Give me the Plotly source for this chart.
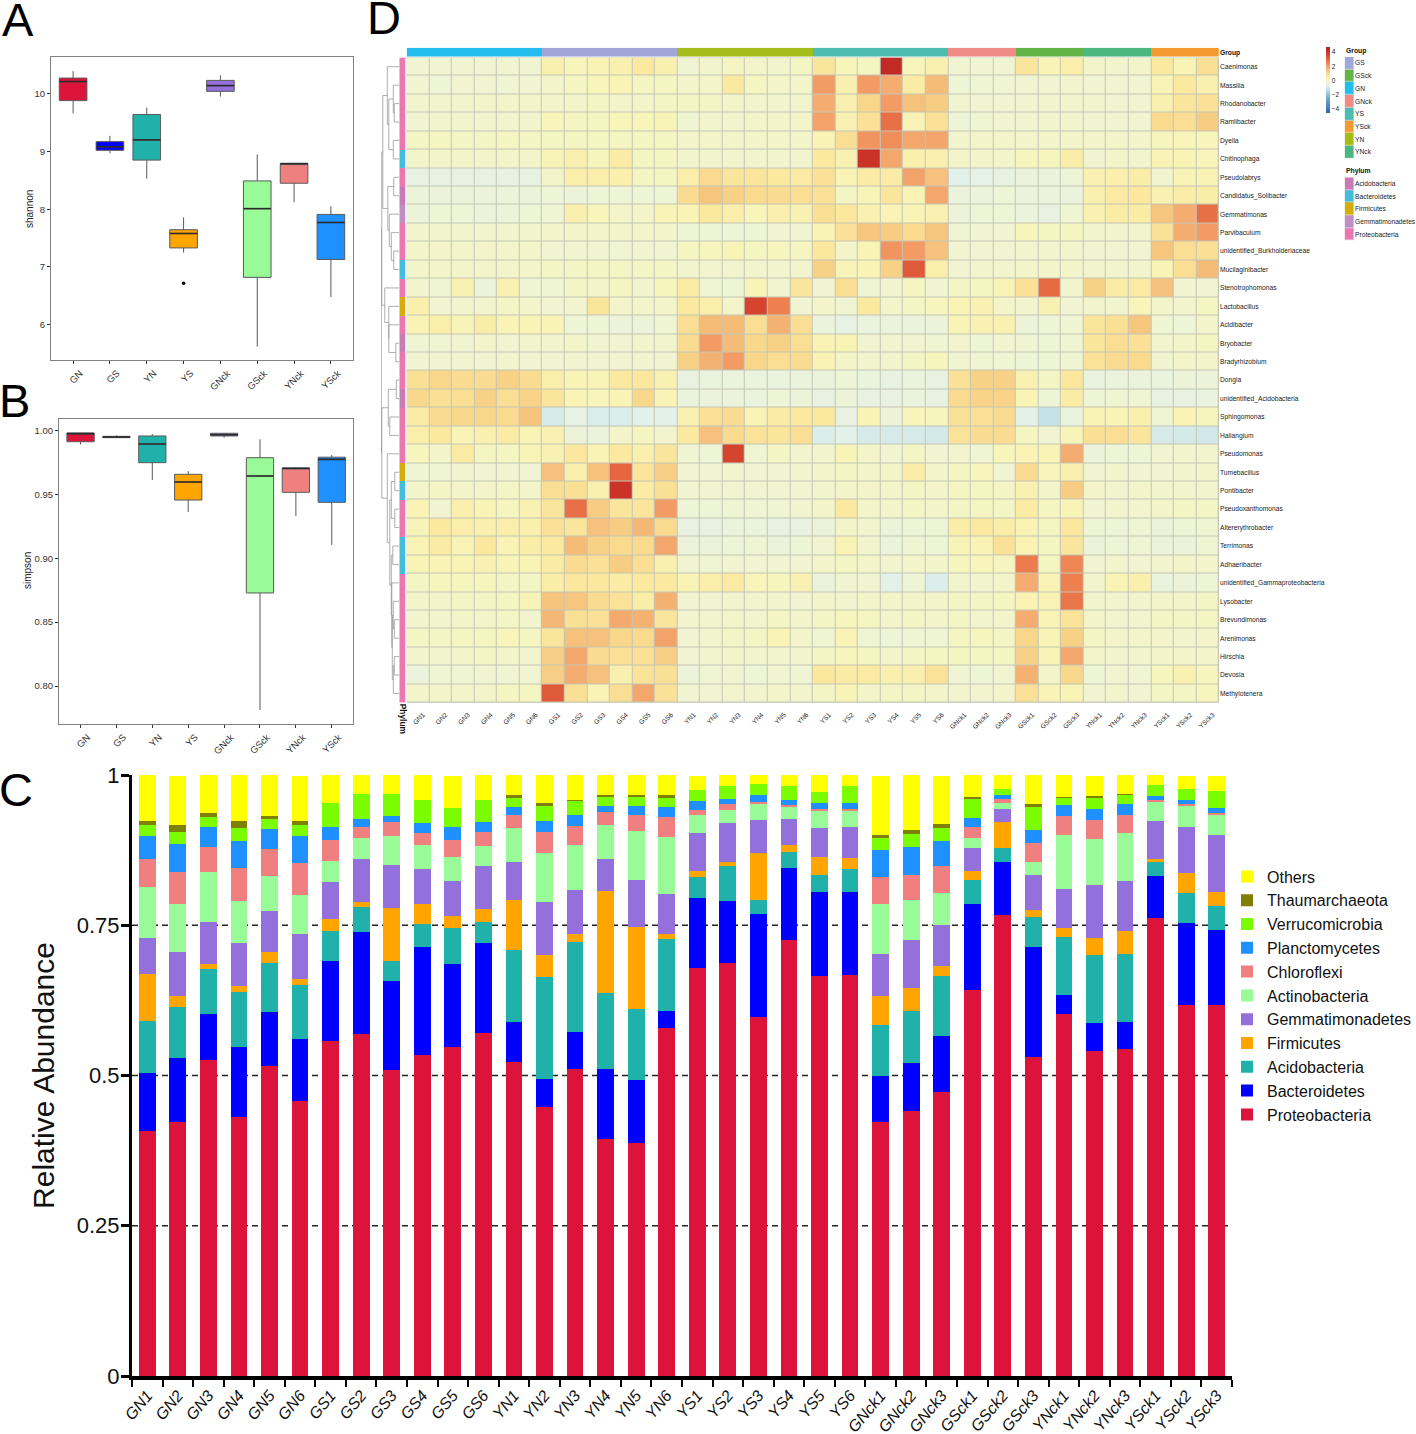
import plotly.graph_objects as go

W, H = 1416, 1434
FONT = "Liberation Sans"

# ---------- panels A and B ----------
BOX_GROUPS = ["GN", "GS", "YN", "YS", "GNck", "GSck", "YNck", "YSck"]
BOX_COLORS = ["#DC143C", "#0000FF", "#20B2AA", "#FFA500", "#9370DB", "#98FB98", "#F08080", "#1E90FF"]

SH_Q1 = [9.88, 9.02, 8.85, 7.33, 10.04, 6.82, 8.45, 7.13]
SH_MED = [10.21, 9.08, 9.20, 7.58, 10.14, 8.01, 8.79, 7.77]
SH_Q3 = [10.27, 9.17, 9.64, 7.645, 10.23, 8.49, 8.79, 7.91]
SH_LOW = [9.66, 8.97, 8.53, 7.25, 9.95, 5.62, 8.12, 6.48]
SH_UP = [10.39, 9.27, 9.76, 7.86, 10.32, 8.95, 8.79, 8.05]
SH_OUT_GROUP = ["YS"]
SH_OUT = [6.72]

SI_Q1 = [0.9911, 0.9943, 0.9747, 0.9455, 0.9956, 0.8728, 0.9515, 0.9437]
SI_MED = [0.9974, 0.9948, 0.9893, 0.9596, 0.9966, 0.9643, 0.9703, 0.9773]
SI_Q3 = [0.9979, 0.9953, 0.9956, 0.9656, 0.9977, 0.9786, 0.9705, 0.9790]
SI_LOW = [0.989, 0.994, 0.9611, 0.9361, 0.9943, 0.7812, 0.933, 0.9103]
SI_UP = [0.998, 0.9961, 0.9971, 0.9682, 0.9977, 0.993, 0.971, 0.9807]

# ---------- panel C ----------
SAMPLES = (["GN%d" % i for i in range(1, 7)] + ["GS%d" % i for i in range(1, 7)]
           + ["YN%d" % i for i in range(1, 7)] + ["YS%d" % i for i in range(1, 7)]
           + ["GNck%d" % i for i in range(1, 4)] + ["GSck%d" % i for i in range(1, 4)]
           + ["YNck%d" % i for i in range(1, 4)] + ["YSck%d" % i for i in range(1, 4)])

PROTEOBACTERIA = [40.7,42.3,52.5,43.1,51.5,45.8, 55.7,56.9,50.9,53.4,54.7,57.1, 52.3,44.7,51.0,39.4,38.7,57.9, 67.9,68.7,59.7,72.5,66.6,66.7, 42.2,44.1,47.2, 64.3,76.7,53.0, 60.3,54.0,54.4, 76.2,61.8,61.7]
BACTEROIDETES = [9.7,10.6,7.7,11.6,9.0,10.3, 13.4,16.9,14.8,17.9,13.9,14.9, 6.6,4.7,6.2,11.6,10.5,2.8, 11.6,10.3,17.1,12.1,14.0,13.8, 7.8,8.0,9.4, 14.3,8.8,18.4, 3.1,4.7,4.5, 7.0,13.6,12.5]
ACIDOBACTERIA = [8.7,8.5,7.5,9.2,8.3,9.0, 4.9,4.2,3.4,3.9,5.9,3.6, 12.0,17.0,15.0,12.8,11.8,12.0, 3.5,5.9,2.4,2.6,2.8,3.9, 8.4,8.7,10.0, 3.9,2.4,5.0, 9.6,11.3,11.4, 2.3,5.0,4.0]
FIRMICUTES = [7.8,1.8,.8,1.0,1.7,.9, 2.1,.9,8.8,3.3,2.0,2.1, 8.3,3.6,1.3,16.9,13.7,.8, 1.0,.6,7.9,1.1,2.9,1.8, 4.9,3.8,1.7, 1.5,4.3,1.2, 1.6,2.9,3.8, .6,3.3,2.3]
GEMMATIMONADETES = [5.9,7.3,7.1,7.1,6.8,7.6, 6.1,7.1,7.2,5.9,5.8,7.2, 6.3,8.8,7.3,5.3,7.8,6.7, 6.3,6.5,5.4,4.4,4.9,5.2, 6.9,8.0,6.8, 3.8,2.2,5.8, 6.4,8.8,8.2, 6.3,7.7,9.6]
ACTINOBACTERIA = [8.5,8.0,8.2,7.1,5.9,6.4, 3.5,3.6,4.7,3.9,4.0,3.3, 5.7,8.2,7.5,5.6,8.1,9.5, 3.0,2.2,2.6,2.1,2.9,2.7, 8.4,6.6,5.3, 1.8,.9,2.2, 9.0,7.7,8.1, 3.2,3.5,3.3]
CHLOROFLEXI = [4.7,5.3,4.3,5.5,4.5,5.4, 3.5,1.8,2.3,2.1,2.9,2.3, 2.2,3.5,3.2,2.2,2.8,3.3, .8,1.0,.4,.2,.2,.2, 4.5,4.1,4.4, 1.7,.7,3.1, 3.2,3.1,3.0, .2,.3,.3]
PLANCTOMYCETES = [3.8,4.8,3.2,4.5,3.3,4.5, 2.1,1.2,1.1,1.6,2.1,1.6, 1.2,1.9,1.8,1.1,1.4,1.7, 1.6,.8,1.2,.9,1.1,1.1, 4.5,4.8,4.3, 1.6,.7,2.1, 1.8,1.9,1.7, .7,.7,.8]
VERRUCOMICROBIA = [1.8,1.9,1.7,2.1,1.6,1.8, 4.0,4.3,3.7,3.9,3.2,3.7, 1.7,2.5,2.4,1.6,1.6,1.6, 1.8,2.2,1.8,2.3,1.8,2.8, 1.9,2.1,2.1, 3.2,1.0,3.9, 1.2,1.9,1.6, 1.8,1.8,2.8]
THAUMARCHAEOTA = [.8,1.2,.7,1.1,.5,.7, 0,0,0,0,0,0, .3,.4,.2,.2,.3,.3, 0,0,0,0,0,0, .5,.6,.7, .2,0,.4, .2,.2,.2, 0,0,0]
OTHERS = [7.6,8.2,6.3,7.7,7.0,7.4, 4.7,3.2,3.2,4.1,5.3,4.4, 3.4,4.8,4.1,3.3,3.3,3.5, 2.4,1.8,1.5,1.8,2.8,1.8, 9.9,9.2,8.0, 3.7,2.3,4.9, 3.7,3.4,3.3, 1.7,2.2,2.6]

STACK = [("Proteobacteria", PROTEOBACTERIA, "#DC143C"), ("Bacteroidetes", BACTEROIDETES, "#0000FF"),
         ("Acidobacteria", ACIDOBACTERIA, "#20B2AA"), ("Firmicutes", FIRMICUTES, "#FFA500"),
         ("Gemmatimonadetes", GEMMATIMONADETES, "#9370DB"), ("Actinobacteria", ACTINOBACTERIA, "#98FB98"),
         ("Chloroflexi", CHLOROFLEXI, "#F08080"), ("Planctomycetes", PLANCTOMYCETES, "#1E90FF"),
         ("Verrucomicrobia", VERRUCOMICROBIA, "#7CFC00"), ("Thaumarchaeota", THAUMARCHAEOTA, "#808000"),
         ("Others", OTHERS, "#FFFF00")]
C_TICKS = [0, 0.25, 0.5, 0.75, 1]
C_TICK_TEXT = ["0", "0.25", "0.5", "0.75", "1"]
C_DASHED = [0.25, 0.5, 0.75]

# ---------- panel D ----------
GENERA = ["Caenimonas", "Massilia", "Rhodanobacter", "Ramlibacter", "Dyella", "Chitinophaga", "Pseudolabrys",
          "Candidatus_Solibacter", "Gemmatimonas", "Parvibaculum", "unidentified_Burkholderiaceae", "Mucilaginibacter",
          "Stenotrophomonas", "Lactobacillus", "Acidibacter", "Bryobacter", "Bradyrhizobium", "Dongia",
          "unidentified_Acidobacteria", "Sphingomonas", "Haliangium", "Pseudomonas", "Tumebacillus", "Pontibacter",
          "Pseudoxanthomonas", "Altererythrobacter", "Terrimonas", "Adhaeribacter", "unidentified_Gammaproteobacteria",
          "Lysobacter", "Brevundimonas", "Arenimonas", "Hirschia", "Devosia", "Methylotenera"]
Z_VALUES = [
 [-.3,-.3,-.3,-.3,-.3,-.3, .2,0,.1,.2,.5,.2, -.35,-.25,-.1,-.2,-.25,-.15, .6,0,-.1,4.3,0,.2, -.3,-.3,-.3, .6,.1,.3, -.2,-.25,-.2, .5,.1,.8],
 [-.3,-.4,-.3,-.3,-.35,-.3, -.2,-.1,0,.1,-.1,-.1, -.2,-.2,.5,-.1,-.2,-.2, 2.1,.2,2.1,1.8,.4,1.5, -.4,-.35,-.35, -.3,-.3,-.25, -.3,-.3,-.3, .1,.5,.2],
 [-.25,-.25,-.25,-.2,-.2,-.2, -.2,-.2,-.15,-.2,-.2,-.15, -.15,-.15,-.2,-.25,-.25,-.25, 1.8,.2,1.0,2.1,1.4,1.2, -.3,-.3,-.3, -.3,-.25,-.25, -.25,-.3,-.3, .2,.6,.7],
 [-.3,-.25,-.25,-.25,-.25,-.25, 0,-.1,-.1,0,0,.05, -.35,-.25,-.25,-.2,-.2,-.2, 2.0,.15,.7,2.8,.1,.7, -.4,-.35,-.3, -.3,-.25,-.25, -.3,-.3,-.3, .9,.8,1.2],
 [-.15,-.1,-.15,-.15,-.1,-.15, -.1,-.1,-.1,-.1,-.1,-.1, -.2,-.2,-.2,-.2,-.2,-.2, .1,.8,2.2,2.3,1.9,1.95, -.25,-.2,-.2, -.2,-.2,-.2, -.2,-.2,-.2, -.05,0,0],
 [-.2,-.2,-.2,-.2,-.2,-.2, .05,.2,-.05,.4,-.1,-.1, -.25,-.25,-.25,-.25,-.25,-.25, .5,.15,4.0,1.9,.25,.25, -.2,-.2,-.2, -.05,-.05,.35, -.3,-.2,-.25, .1,.1,0],
 [-.65,-.65,-.65,-.65,-.65,-.65, -.2,.3,.3,.25,-.1,-.1, .3,.9,.6,.6,.5,.45, .7,.1,.4,.4,2.0,1.4, -.8,-.7,-.65, -.5,-.5,-.4, .15,.25,.35, -.3,.1,.1],
 [-.45,-.45,-.45,-.45,-.45,-.45, -.4,-.45,-.4,-.4,-.4,-.4, .85,1.3,1.1,.9,.85,.8, .7,-.15,.05,.6,.1,1.9, -.5,-.5,-.4, -.5,-.5,-.5, .2,.45,.55, .15,.35,.35],
 [-.45,-.4,-.4,-.45,-.45,-.4, -.35,.2,0,-.2,-.2,.1, .1,.5,.3,0,.25,.15, .75,.55,.15,.1,.1,.15, -.45,-.4,-.4, -.5,-.6,-.35, .15,.4,.4, 1.3,1.8,2.8],
 [-.25,-.25,-.25,-.25,-.25,-.25, -.2,-.2,-.2,-.2,-.2,-.2, -.4,-.4,-.4,-.4,-.3,-.3, .1,.7,1.3,1.2,.9,1.3, -.35,-.3,-.3, 0,-.1,-.1, -.25,-.25,-.25, .7,1.8,2.1],
 [-.2,-.2,-.2,-.2,-.2,-.2, -.3,-.3,-.3,-.35,-.3,-.3, -.1,-.05,.05,-.1,-.05,-.1, .55,-.2,.1,2.2,2.1,1.4, -.3,-.3,-.3, -.25,-.25,-.25, -.3,-.3,-.3, 1.3,.8,.75],
 [-.2,-.2,-.2,-.2,-.2,-.2, -.15,-.15,-.15,-.15,-.15,-.15, -.25,-.25,-.25,-.25,-.25,-.25, 1.1,.05,.1,1.1,3.2,.3, -.3,-.25,-.25, -.2,-.2,-.2, -.25,-.25,-.25, .1,.8,1.5],
 [-.25,-.35,.15,-.45,.15,-.35, -.35,-.15,-.2,-.1,-.25,-.05, .4,-.35,-.4,.05,-.3,.6, -.3,.8,-.35,-.3,-.1,-.3, -.15,-.1,.05, .7,2.9,-.25, 1.1,.4,.45, 1.4,-.3,-.3],
 [.25,-.3,-.25,-.25,-.15,-.2, -.3,-.25,.6,-.2,-.2,-.2, .5,.3,-.2,3.6,2.5,-.3, -.2,-.3,.5,-.2,-.15,-.05, .1,.15,-.2, -.25,.15,-.3, -.25,-.25,0, -.2,-.25,-.1],
 [.1,.3,.05,.35,.1,.1, .1,-.4,-.4,-.45,-.45,-.35, .8,1.5,1.5,.8,1.7,.8, -.5,-.65,-.55,-.5,-.5,-.45, .1,.15,.15, -.45,-.4,-.35, .6,.75,1.3, -.35,-.4,-.2],
 [-.35,-.35,-.3,-.2,-.3,-.25, -.25,-.2,-.3,-.3,-.25,-.25, .85,2.1,1.5,.95,1.1,.8, .1,.1,-.3,-.3,-.3,-.35, -.25,-.4,-.3, -.35,-.4,-.35, .6,.8,.7, -.25,-.2,-.1],
 [-.3,-.3,-.3,-.3,-.25,-.3, -.3,-.3,-.3,-.3,-.3,-.3, 1.1,1.7,2.1,1.0,.8,.85, .1,-.2,-.25,-.25,-.15,-.05, -.3,-.35,-.35, -.4,-.4,-.35, .65,.85,.9, -.3,-.2,-.2],
 [.75,1.0,.85,.85,1.1,.85, .3,.1,.05,.5,.55,.15, -.6,-.55,-.55,-.55,-.55,-.5, -.5,-.4,-.55,-.65,-.55,-.6, .7,1.1,1.1, .15,-.15,.55, -.55,-.5,-.5, -.55,-.45,-.45],
 [.95,.75,.8,1.1,.8,1.05, .6,.1,0,.1,.95,.1, -.55,-.5,-.5,-.55,-.4,-.45, -.6,-.45,-.6,-.6,-.55,-.6, .9,1.05,1.05, .1,-.4,.4, -.4,-.35,-.35, -.6,-.6,-.55],
 [.4,.85,.95,1.0,.9,1.35, -1.0,-.7,-.95,-.95,-.8,-.8, .15,.7,.85,.1,.4,.5, .5,-.6,.1,-.45,0,-.05, .7,.7,.85, -.75,-1.3,-.55, .1,.1,.2, -.35,.1,-.05],
 [.3,.5,.1,.2,.4,.1, .15,-.45,-.5,-.2,-.1,-.25, .5,1.4,.9,.65,.6,.8, -.9,-.8,-1.0,-1.0,-1.0,-1.05, .65,.85,.85, -.1,-.3,.05, .75,.8,.6, -1.0,-1.05,-1.1],
 [-.05,-.2,.45,-.1,-.1,.05, .15,.55,.1,.5,.2,.6, -.35,-.4,3.6,-.35,-.15,-.25, -.25,.05,-.2,-.3,-.15,-.3, -.25,-.35,0, .1,.1,1.8, -.45,-.4,-.4, -.3,-.25,-.25],
 [-.35,-.35,-.3,-.3,-.3,-.35, 1.4,.25,1.4,3.0,.6,1.15, -.3,-.3,-.25,-.3,-.3,-.25, -.2,-.15,-.2,-.15,.35,-.2, -.1,0,-.35, .85,0,.2, -.3,-.25,-.3, -.3,-.25,-.2],
 [-.2,-.15,-.2,-.2,-.15,-.2, .8,.75,.2,4.0,.4,.75, -.3,-.3,-.3,-.3,-.3,-.3, -.25,-.2,-.2,-.2,-.15,-.2, -.1,-.1,-.15, .15,-.2,1.2, -.2,-.25,-.2, -.25,-.25,-.25],
 [.1,-.3,.25,.1,-.05,.15, .6,2.8,1.2,.6,.6,2.1, -.4,-.4,-.35,-.35,-.35,-.3, -.2,.5,-.2,-.2,-.15,-.2, -.15,-.1,-.15, .4,-.1,.05, -.3,-.25,-.25, -.2,-.15,-.15],
 [.05,.5,.3,.25,.3,.25, .7,.6,1.4,1.2,1.6,.9, -.6,-.6,-.55,-.55,-.6,-.6, -.45,-.2,-.25,-.45,-.4,-.4, .35,.5,.35, .1,-.1,.55, -.4,-.4,-.35, -.45,-.4,-.35],
 [.1,.4,.1,.55,.1,.35, .5,1.5,1.1,.9,.9,1.9, -.45,-.45,-.4,-.35,-.45,-.4, -.3,.1,-.25,-.5,-.35,-.4, .05,.1,.7, .1,-.1,.6, -.45,-.4,-.35, -.45,-.45,-.35],
 [.1,.1,.1,.15,.05,.1, .4,.85,.7,1.2,.8,.2, -.3,-.35,-.3,-.3,-.3,-.3, -.2,-.15,-.2,-.25,-.2,-.2, -.05,0,-.1, 2.6,-.1,2.4, -.3,-.25,-.3, -.25,-.2,-.2],
 [-.15,-.05,-.05,-.05,-.15,-.15, .35,.55,.55,.4,.5,.5, .1,.3,.45,0,-.05,.15, -.5,-.3,-.3,-.75,-.4,-.9, -.25,-.25,-.2, 1.8,.1,2.5, -.25,.1,.2, -.55,-.45,-.4],
 [-.2,-.2,-.15,-.15,-.1,.05, 1.35,1.3,.85,.65,.35,1.7, -.3,-.3,-.25,-.25,-.25,-.3, -.2,-.25,-.2,-.2,-.2,-.2, -.15,-.15,-.1, .1,.1,2.7, -.25,-.25,-.25, -.2,-.2,-.15],
 [-.25,-.25,-.2,-.2,-.15,-.25, 1.6,.75,.7,1.85,1.7,.6, -.25,-.25,-.2,-.25,-.15,-.2, -.15,-.05,-.1,-.2,-.15,-.2, -.15,-.25,-.2, 1.8,.1,.65, -.2,-.25,-.25, -.15,-.15,-.1],
 [-.15,-.15,-.1,-.1,0,-.1, .6,1.4,1.4,1.0,.9,2.0, -.3,-.25,-.15,-.15,.1,-.2, -.35,.1,-.35,-.4,-.35,-.35, -.1,-.05,-.15, 1.0,.1,1.1, -.15,-.2,-.2, -.2,-.25,-.2],
 [-.25,-.25,-.2,-.15,-.2,-.25, 1.15,1.9,.9,.7,.7,1.15, -.3,-.25,-.2,-.25,-.25,-.25, -.15,-.05,-.1,-.2,-.15,-.1, -.1,-.1,-.1, 1.1,.1,1.9, -.2,-.25,-.25, -.2,-.2,-.2],
 [-.5,-.35,-.35,-.3,-.35,-.3, 1.15,1.8,1.4,.2,.65,.75, -.45,-.35,-.3,-.4,-.3,-.35, .55,.4,.45,.2,.2,.65, -.35,-.4,-.3, 1.7,-.2,.95, -.4,-.3,-.35, -.05,.15,-.05],
 [-.2,-.2,-.2,-.2,-.1,-.1, 3.2,.75,.1,.8,1.9,.7, -.3,-.3,-.25,-.25,-.2,-.25, -.15,.05,-.2,-.15,-.15,-.2, -.25,-.25,-.2, .7,.1,.1, -.3,-.25,-.3, -.15,-.15,-.05],
]
Z_STOPS = [-4.7, -2.5, -1.5, -.8, -.5, -.3, 0, .5, 1, 1.5, 2, 2.5, 3, 3.5, 4, 4.7]
Z_COLORS = ["#2F62AE", "#74ADD1", "#B9DCE8", "#E2F1EA", "#ECF3DC", "#F0F4D0", "#F8F5BA", "#FBE9A0", "#F8D68A",
            "#F5BC78", "#F3A26A", "#EE8050", "#E4653F", "#D6492F", "#CB3228", "#B5201F"]
COLORBAR_TICKS = [-4, -2, 0, 2, 4]

GROUP_ORDER = ["GN", "GS", "YN", "YS", "GNck", "GSck", "YNck", "YSck"]
GROUP_SIZE = [6, 6, 6, 6, 3, 3, 3, 3]
GROUP_COLORS = {"GS": "#A0A6D8", "GSck": "#62B446", "GN": "#23BDEF", "GNck": "#F08A84", "YS": "#4DBBB0",
                "YSck": "#F59A2F", "YN": "#A4BC1A", "YNck": "#4CB680"}
GROUP_LEGEND = ["GS", "GSck", "GN", "GNck", "YS", "YSck", "YN", "YNck"]

PHYLA_LEGEND = ["Acidobacteria", "Bacteroidetes", "Firmicutes", "Gemmatimonadetes", "Proteobacteria"]
PHYLA_COLORS = ["#C77CB5", "#45BCD8", "#D4AC0D", "#BF8FC4", "#E878AE"]
P, B, F, A, M = "Proteobacteria", "Bacteroidetes", "Firmicutes", "Acidobacteria", "Gemmatimonadetes"
GENUS_PHYLUM = [P, P, P, P, P, B, P, A, M, P, P, B, P, F, P, A, P, P, A, P, P, P, F, B, P, P, B, B, P, P, P, P, P, P, P]

# row dendrogram: (merge height, left branch, right branch); integers are rows
DENDRO = (18,
          (17.5,
           (16.5,
            (12, 0, (10.5, (6, 1, (5, 2, 3)), (6, 4, 5))),
            (11.5, (5.5, 6, 7), (10, 8, (8, 9, (5.5, 10, 11))))),
           (14.5, 12, (10.5, 13, (10.5, 14, (3.5, 15, 16))))),
          (17.5,
           (11, (3, 17, 18), (9.5, 19, 20)),
           (12, 21,
            (9.5,
             (8, (4.5, 22, 23), (4.5, 24, 25)),
             (8, (6.5, 26, 27),
              (7.5, 28, (7, (6, 29, (5, 30, 31)), (6, (5, 32, 33), 34))))))))


def dom_x(a, b):
    return [a / W, b / W]


def dom_y(top, bottom):
    return [1 - bottom / H, 1 - top / H]


def steps(colors):
    n = len(colors)
    out = []
    for i, c in enumerate(colors):
        out += [[i / n, c], [(i + 1) / n, c]]
    return out


fig = go.Figure()


def add_boxes(q1, med, q3, low, up, ax_x, ax_y, width, size):
    for i, g in enumerate(BOX_GROUPS):
        fig.add_trace(go.Box(x=[g], q1=[q1[i]], median=[med[i]], q3=[q3[i]], lowerfence=[low[i]], upperfence=[up[i]],
                             name=g, width=width, whiskerwidth=0, fillcolor=BOX_COLORS[i], boxpoints=False,
                             line=dict(color="#5a5a5a", width=1), showlegend=False, hoverinfo="skip",
                             xaxis=ax_x, yaxis=ax_y))
    fig.add_trace(go.Scatter(x=BOX_GROUPS, y=med, mode="markers", showlegend=False, hoverinfo="skip",
                             marker=dict(symbol="line-ew", size=size, line=dict(color="#2b2b2b", width=1.6)),
                             xaxis=ax_x, yaxis=ax_y))


add_boxes(SH_Q1, SH_MED, SH_Q3, SH_LOW, SH_UP, "x", "y", 0.75, 19.6)
fig.add_trace(go.Scatter(x=SH_OUT_GROUP, y=SH_OUT, mode="markers", showlegend=False, hoverinfo="skip",
                         marker=dict(color="black", size=3.5), xaxis="x", yaxis="y"))
add_boxes(SI_Q1, SI_MED, SI_Q3, SI_LOW, SI_UP, "x2", "y2", 0.76, 19.5)

# stacked bars
bar_x = list(range(len(SAMPLES)))
for name, vals, col in STACK:
    fig.add_trace(go.Bar(x=bar_x, y=[v / 100 for v in vals], name=name, width=0.55, marker=dict(color=col, line=dict(width=0)),
                         hoverinfo="skip", xaxis="x3", yaxis="y3"))

# heatmap
span = Z_STOPS[-1] - Z_STOPS[0]
colorscale = [[(z - Z_STOPS[0]) / span, c] for z, c in zip(Z_STOPS, Z_COLORS)]
fig.add_trace(go.Heatmap(z=Z_VALUES, x=SAMPLES, y=GENERA, colorscale=colorscale, zmin=Z_STOPS[0], zmax=Z_STOPS[-1],
                         xgap=1, ygap=1, hoverinfo="skip", xaxis="x4", yaxis="y4",
                         colorbar=dict(x=1326 / W, xanchor="left", y=1 - 113.3 / H, yanchor="bottom", len=66,
                                       lenmode="pixels", thickness=3.5, thicknessmode="pixels", xpad=0, ypad=0,
                                       outlinewidth=0, ticks="", tickvals=COLORBAR_TICKS,
                                       tickfont=dict(size=6.5, color="#222"))))

# annotation strips
group_seq = []
for g, n in zip(GROUP_ORDER, GROUP_SIZE):
    group_seq += [g] * n
group_cols = [GROUP_COLORS[g] for g in GROUP_LEGEND]
fig.add_trace(go.Heatmap(z=[[GROUP_LEGEND.index(g) for g in group_seq]], x=SAMPLES, y=["Group"], showscale=False,
                         colorscale=steps(group_cols), zmin=0, zmax=len(group_cols), hoverinfo="skip",
                         xaxis="x5", yaxis="y5"))
fig.add_trace(go.Heatmap(z=[[PHYLA_LEGEND.index(p)] for p in GENUS_PHYLUM], x=["Phylum"], y=GENERA, showscale=False,
                         colorscale=steps(PHYLA_COLORS), zmin=0, zmax=len(PHYLA_COLORS), hoverinfo="skip",
                         xaxis="x6", yaxis="y6"))

# dendrogram
dx, dy = [], []


def walk(node):
    if isinstance(node, int):
        return node, 0
    h, a, b = node
    ya, ha = walk(a)
    yb, hb = walk(b)
    dx.extend([ha, h, h, hb, None])
    dy.extend([ya, ya, yb, yb, None])
    return (ya + yb) / 2, h


walk(DENDRO)
fig.add_trace(go.Scatter(x=dx, y=dy, mode="lines", line=dict(color="#8c8c8c", width=0.7), showlegend=False,
                         hoverinfo="skip", xaxis="x7", yaxis="y7"))

# small heatmap-legends
fig.add_trace(go.Heatmap(z=[[i] for i in range(len(GROUP_LEGEND))], x=["k"], y=GROUP_LEGEND, showscale=False,
                         colorscale=steps(group_cols), zmin=0, zmax=len(group_cols), ygap=0.5, hoverinfo="skip",
                         xaxis="x8", yaxis="y8"))
fig.add_trace(go.Heatmap(z=[[i] for i in range(len(PHYLA_LEGEND))], x=["k"], y=PHYLA_LEGEND, showscale=False,
                         colorscale=steps(PHYLA_COLORS), zmin=0, zmax=len(PHYLA_COLORS), ygap=0.5, hoverinfo="skip",
                         xaxis="x9", yaxis="y9"))

frame = dict(showline=True, linecolor="#808080", linewidth=1.2, mirror=True, showgrid=False, zeroline=False,
             ticks="outside", ticklen=3, tickwidth=1, tickcolor="#333", tickfont=dict(size=9.5, color="#333"),
             automargin=False)
strip = dict(showgrid=False, zeroline=False, showline=False, ticks="", automargin=False)

layout = dict(
    width=W, height=H, autosize=False, margin=dict(l=0, r=0, t=0, b=0, autoexpand=False),
    paper_bgcolor="white", plot_bgcolor="white",
    font=dict(family=FONT, color="black"), barmode="stack", showlegend=True,
    legend=dict(x=1227 / W, xanchor="left", y=1 - 859.5 / H, yanchor="top", traceorder="reversed",
                font=dict(size=16, color="#111"), bgcolor="rgba(0,0,0,0)", borderwidth=0, tracegroupgap=0, itemclick=False),
    xaxis=dict(frame, domain=dom_x(51, 353), type="category", categoryorder="array", categoryarray=BOX_GROUPS,
               range=[-0.6, 7.6], tickangle=-45, ticklabelshift=7),
    yaxis=dict(frame, domain=dom_y(57, 360), range=[5.39, 10.635], tickvals=[6, 7, 8, 9, 10]),
    xaxis2=dict(frame, domain=dom_x(59, 353.3), type="category", categoryorder="array", categoryarray=BOX_GROUPS,
                range=[-0.6, 7.6], tickangle=-45, anchor="y2", ticklabelshift=7),
    yaxis2=dict(frame, domain=dom_y(419, 724), range=[0.7703, 1.00887], tickvals=[0.80, 0.85, 0.90, 0.95, 1.00],
                ticktext=["0.80", "0.85", "0.90", "0.95", "1.00"], anchor="x2"),
    xaxis3=dict(domain=dom_x(132, 1232), range=[-0.5, 35.5], anchor="y3", showline=True, linecolor="black", linewidth=3.5,
                showgrid=False, zeroline=False, tickvals=bar_x, ticktext=["<i>%s</i>" % s for s in SAMPLES], tickangle=-50,
                automargin=False, ticks="",
                tickfont=dict(size=16, color="#111"),
                minor=dict(tickvals=[i - 0.5 for i in range(37)], ticks="outside", ticklen=7, tickwidth=2,
                           tickcolor="black", showgrid=False)),
    yaxis3=dict(domain=dom_y(775, 1376), range=[0, 1], anchor="x3", showline=True, linecolor="black", linewidth=3,
                showgrid=False, zeroline=False, tickvals=C_TICKS, ticktext=C_TICK_TEXT, ticks="outside", ticklen=8,
                tickwidth=2.5, tickcolor="black", tickfont=dict(size=22, color="#111"), automargin=False,
                ticklabelstandoff=-3,
                title=dict(text="Relative Abundance", font=dict(size=30, color="#111"), standoff=14)),
    xaxis4=dict(strip, domain=dom_x(406.7, 1219), anchor="y4", tickangle=-45, ticklen=0, type="category",
                tickfont=dict(size=6.6, color="#222"), tickmode="array", tickvals=SAMPLES, ticktext=SAMPLES,
                ticklabelstandoff=6, ticklabelshift=5),
    yaxis4=dict(strip, domain=dom_y(57.5, 702.7), anchor="x4", side="right", type="category", autorange="reversed",
                tickfont=dict(size=6.7, color="#222"), tickmode="array", tickvals=GENERA, ticktext=GENERA),
    xaxis5=dict(strip, domain=dom_x(406.7, 1219), anchor="y5", type="category", showticklabels=False),
    yaxis5=dict(strip, domain=dom_y(47.7, 56.7), anchor="x5", side="right", type="category", tickmode="array",
                tickvals=["Group"], ticktext=["<b>Group</b>"], tickfont=dict(size=6.7, color="#111")),
    xaxis6=dict(strip, domain=dom_x(399.3, 405.7), anchor="y6", type="category", tickmode="array", tickvals=["Phylum"],
                ticktext=["<b>Phylum</b>"], tickangle=90, tickfont=dict(size=8.4, color="#111")),
    yaxis6=dict(strip, domain=dom_y(57.5, 702.7), anchor="x6", type="category", autorange="reversed",
                showticklabels=False),
    xaxis7=dict(strip, domain=dom_x(381, 399.3), anchor="y7", range=[18.3, 0], showticklabels=False),
    yaxis7=dict(strip, domain=dom_y(57.5, 702.7), anchor="x7", range=[34.5, -0.5], showticklabels=False),
    xaxis8=dict(strip, domain=dom_x(1344.6, 1354), anchor="y8", type="category", showticklabels=False),
    yaxis8=dict(strip, domain=dom_y(56.7, 158.3), anchor="x8", side="right", type="category", autorange="reversed",
                tickfont=dict(size=6.7, color="#222")),
    xaxis9=dict(strip, domain=dom_x(1344.6, 1354), anchor="y9", type="category", showticklabels=False),
    yaxis9=dict(strip, domain=dom_y(177.3, 240.7), anchor="x9", side="right", type="category", autorange="reversed",
                tickfont=dict(size=6.7, color="#222")),
)
fig.update_layout(**layout)

# cell borders of the heat map: a grey sheet that shows through its gaps
fig.add_shape(type="rect", xref="x4 domain", yref="y4 domain", x0=0, x1=1, y0=0, y1=1, layer="below",
              fillcolor="#C3C5B6", line=dict(width=0))

for v in C_DASHED:
    fig.add_shape(type="line", xref="x3 domain", yref="y3", x0=0, x1=1, y0=v, y1=v, layer="below",
                  line=dict(color="#222", width=1.3, dash="6px,4px"))

for text, x, y in [("A", 1, 19), ("B", -2, 400), ("C", -2, 789), ("D", 366, 18)]:
    fig.add_annotation(text=text, xref="paper", yref="paper", x=x / W, y=1 - y / H, xanchor="left", yanchor="middle",
                       showarrow=False, font=dict(size=47, color="black"), borderpad=0)
for text, y in [("Group", 51), ("Phylum", 171)]:
    fig.add_annotation(text="<b>%s</b>" % text, xref="paper", yref="paper", x=1344.5 / W, y=1 - y / H, xanchor="left",
                       yanchor="middle", showarrow=False, font=dict(size=6.8, color="#111"), borderpad=0)
for text, x, y in [("shannon", 30, 209), ("simpson", 27, 571)]:
    fig.add_annotation(text=text, xref="paper", yref="paper", x=x / W, y=1 - y / H, textangle=-90, xanchor="center",
                       yanchor="middle", showarrow=False, font=dict(size=10, color="#222"), borderpad=0)

fig.write_html("out.html", config=dict(displayModeBar=False),
               post_script="document.body.style.margin='0';document.documentElement.style.overflow='hidden';")
